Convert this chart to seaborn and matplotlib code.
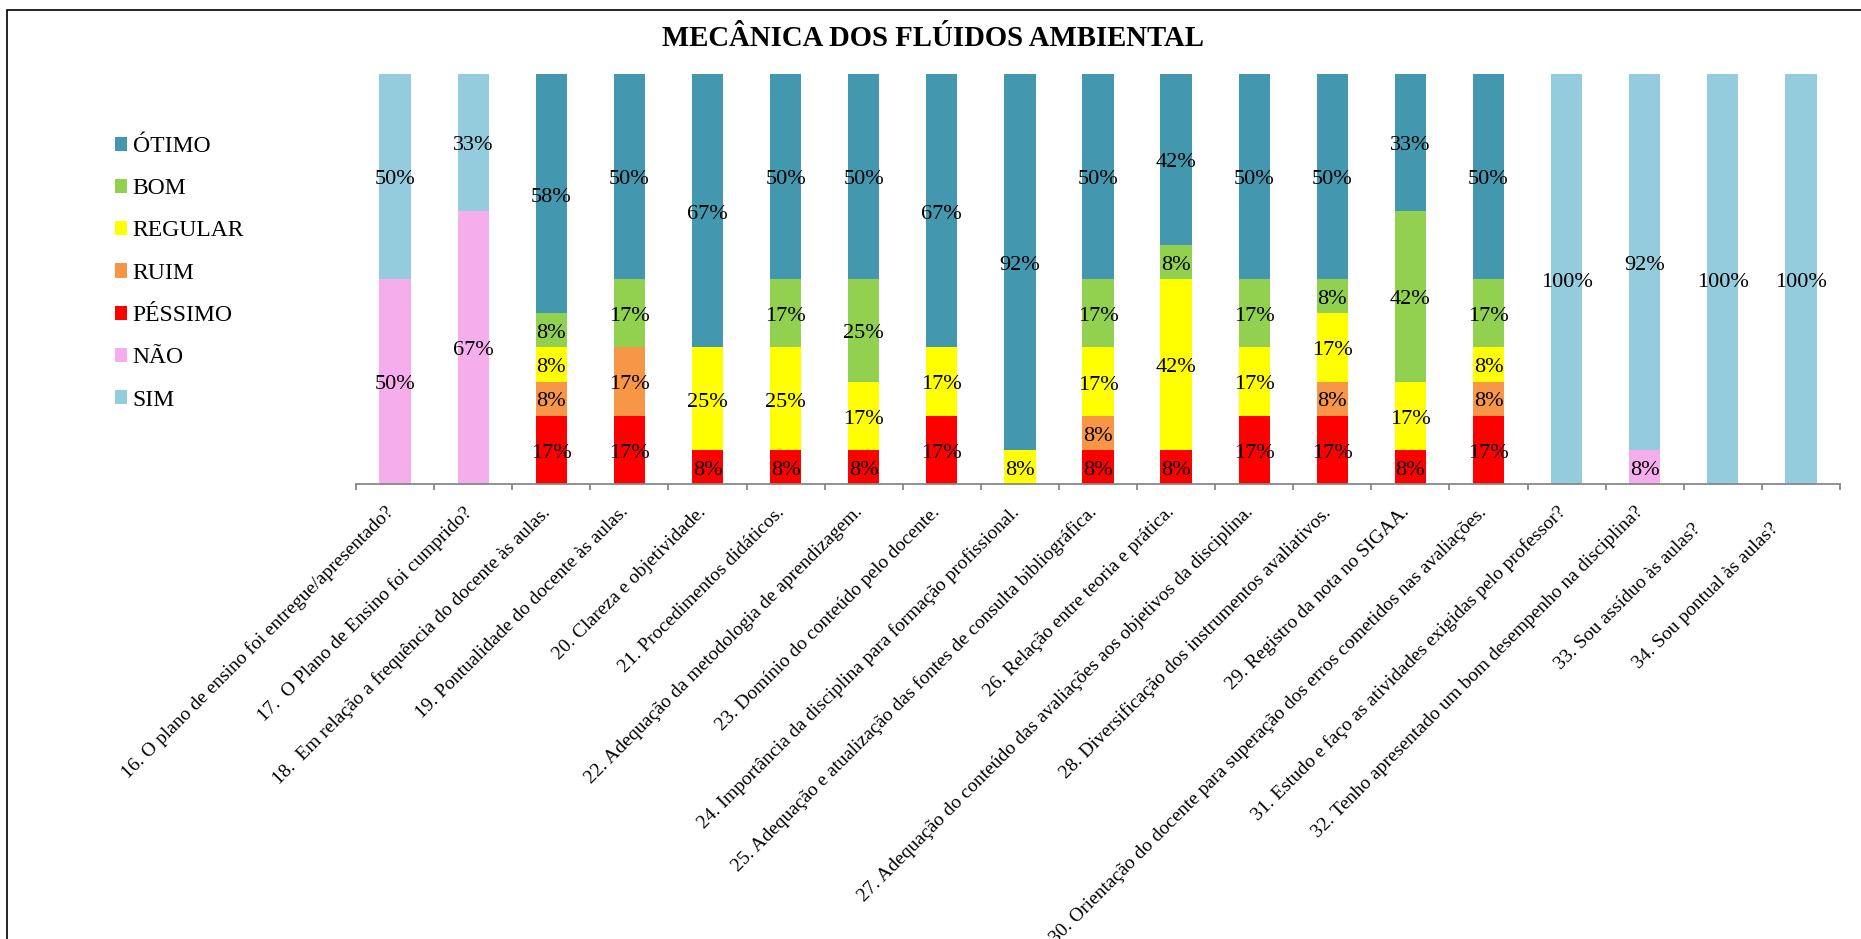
import matplotlib
matplotlib.use("Agg")
import matplotlib.pyplot as plt
import matplotlib.transforms as mtransforms
from matplotlib.patches import Patch, Rectangle
import seaborn as sns
import numpy as np

# ---------------- data ----------------
questions = [
    "16. O plano de ensino foi entregue/apresentado?",
    "17.  O Plano de Ensino foi cumprido?",
    "18.  Em relação a frequência do docente às aulas.",
    "19. Pontualidade do docente às aulas.",
    "20. Clareza e objetividade.",
    "21. Procedimentos didáticos.",
    "22. Adequação da metodologia de aprendizagem.",
    "23. Domínio do conteúdo pelo docente.",
    "24. Importância da disciplina para formação profissional.",
    "25. Adequação e atualização das fontes de consulta bibliográfica.",
    "26. Relação entre teoria e prática.",
    "27. Adequação do conteúdo das avaliações aos objetivos da disciplina.",
    "28. Diversificação dos instrumentos avaliativos.",
    "29. Registro da nota no SIGAA.",
    "30. Orientação do docente para superação dos erros cometidos nas avaliações.",
    "31. Estudo e faço as atividades exigidas pelo professor?",
    "32. Tenho apresentado um bom desempenho na disciplina?",
    "33. Sou assíduo às aulas?",
    "34. Sou pontual às aulas?",
]

# values in percent, stacked bottom -> top in this order
nao     = [50.0, 66.7, 0, 0, 0, 0, 0, 0, 0, 0, 0, 0, 0, 0, 0, 0, 8.3, 0, 0]
pessimo = [0, 0, 16.7, 16.7, 8.3, 8.3, 8.3, 16.7, 0, 8.3, 8.3, 16.7, 16.7, 8.3, 16.7, 0, 0, 0, 0]
ruim    = [0, 0, 8.3, 16.7, 0, 0, 0, 0, 0, 8.3, 0, 0, 8.3, 0, 8.3, 0, 0, 0, 0]
regular = [0, 0, 8.3, 0, 25.0, 25.0, 16.7, 16.7, 8.3, 16.7, 41.7, 16.7, 16.7, 16.7, 8.3, 0, 0, 0, 0]
bom     = [0, 0, 8.3, 16.7, 0, 16.7, 25.0, 0, 0, 16.7, 8.3, 16.7, 8.3, 41.7, 16.7, 0, 0, 0, 0]
otimo   = [0, 0, 58.3, 50.0, 66.7, 50.0, 50.0, 66.7, 91.7, 50.0, 41.7, 50.0, 50.0, 33.3, 50.0, 0, 0, 0, 0]
sim     = [50.0, 33.3, 0, 0, 0, 0, 0, 0, 0, 0, 0, 0, 0, 0, 0, 100.0, 91.7, 100.0, 100.0]

series_names = ["NÃO", "PÉSSIMO", "RUIM", "REGULAR", "BOM", "ÓTIMO", "SIM"]
series_vals = [nao, pessimo, ruim, regular, bom, otimo, sim]
series_colors = ["#F6ADEC", "#FF0000", "#F79646", "#FFFF00", "#92D050", "#4398AF", "#95CCDD"]
legend_order = ["ÓTIMO", "BOM", "REGULAR", "RUIM", "PÉSSIMO", "NÃO", "SIM"]

title = "MECÂNICA DOS FLÚIDOS AMBIENTAL"

# ---------------- style ----------------
sns.set_style("white")
plt.rcParams["font.family"] = ["Liberation Serif", "DejaVu Serif"]
plt.rcParams["text.color"] = "black"
plt.rcParams["xtick.labelcolor"] = "black"

W, H = 1861, 939
fig = plt.figure(figsize=(W / 100, H / 100), dpi=100)
ax = fig.add_axes([356 / W, 1 - 484 / H, (1840 - 356) / W, (484 - 74) / H])

bottom = np.zeros(len(questions))
for name, vals, col in zip(series_names, series_vals, series_colors):
    v = np.array(vals, dtype=float)
    sns.barplot(x=questions, y=v, bottom=bottom, color=col, width=0.4,
                linewidth=0, saturation=1, ax=ax, errorbar=None)
    cont = ax.containers[-1]
    labels = [f"{x:.0f}%" if x > 0 else "" for x in v]
    anns = ax.bar_label(cont, labels=labels, label_type="center", fontsize=16, color="black")
    for a in anns:
        a.xyann = (0, -2.5)
    bottom = bottom + v

ax.set_ylim(0, 100)
ax.set_xlim(-0.5, len(questions) - 0.5)
ax.set_ylabel("")
ax.set_xlabel("")
ax.set_yticks([])
for s in ["top", "right", "left"]:
    ax.spines[s].set_visible(False)
ax.spines["bottom"].set_color("#888888")
ax.spines["bottom"].set_linewidth(1.3)

ax.set_xticks(np.arange(len(questions)))
ax.set_xticks(np.arange(-0.5, len(questions), 1.0), minor=True)
ax.tick_params(axis="x", which="major", length=0, pad=14, labelcolor="black")
ax.tick_params(axis="x", which="minor", length=4, width=1.3, color="#888888", bottom=True)
ax.set_xticklabels(questions, rotation=45, ha="right", va="top",
                   rotation_mode="anchor", fontsize=14)
ticklabs = ax.get_xticklabels()
for i, lab in enumerate(ticklabs):
    if i >= len(ticklabs) - 2:
        dx, dy = -31, -17
    else:
        dx, dy = -10, 0
    off = mtransforms.ScaledTranslation(dx / 100, dy / 100, fig.dpi_scale_trans)
    lab.set_transform(lab.get_transform() + off)

# title
fig.text(933 / W, 1 - 38 / H, title, ha="center", va="center",
         fontsize=20.7, fontweight="bold", color="black")

# legend
handles = [Patch(facecolor=series_colors[series_names.index(n)], edgecolor="none", label=n)
           for n in legend_order]
fig.legend(handles=handles, loc="upper left", bbox_to_anchor=(115 / W, 1 - 136 / H),
           bbox_transform=fig.transFigure, frameon=False, fontsize=17,
           handlelength=0.5, handleheight=0.55, handletextpad=0.25,
           labelspacing=0.9, borderpad=0, borderaxespad=0)

# outer frame (cropped chart border)
fig.patches.append(Rectangle((7 / W, -0.1), 1.2, 1 - 10 / H + 0.1,
                             transform=fig.transFigure, fill=False,
                             edgecolor="black", linewidth=1.2, clip_on=False))

fig.savefig("out.png", dpi=100)
